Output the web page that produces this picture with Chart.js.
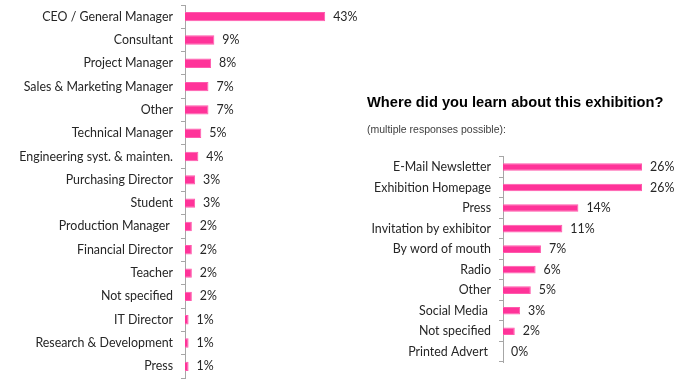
<!DOCTYPE html>
<html>
<head>
<meta charset="utf-8">
<script src="https://cdn.jsdelivr.net/npm/chart.js@4/dist/chart.umd.min.js"></script>
<style>
  body { margin: 0; background: #fff; }
  #wrapLeft { position: absolute; left: 0; top: 0; width: 360px; height: 388px; }
  #wrapRight { position: absolute; left: 360px; top: 85px; width: 331px; height: 303px; }
</style>
</head>
<body>
<div id="wrapLeft"><canvas id="positionChart"></canvas></div>
<div id="wrapRight"><canvas id="sourceChart"></canvas></div>
<script>
// left chart - job position
const positions = ["CEO / General Manager", "Consultant", "Project Manager", "Sales & Marketing Manager", "Other",
  "Technical Manager", "Engineering syst. & mainten.", "Purchasing Director", "Student", "Production Manager ",
  "Financial Director", "Teacher", "Not specified", "IT Director", "Research & Development", "Press"]
const positionValues = [43, 9, 8, 7.2, 7.2, 5, 4.1, 3.1, 3.1, 2.1, 2.1, 2.1, 2.1, 1.1, 1.1, 1.1]

// right chart - where did you learn about it
const sources = ["E-Mail Newsletter", "Exhibition Homepage", "Press", "Invitation by exhibitor", "By word of mouth",
  "Radio", "Other", "Social Media ", "Not specified", "Printed Advert "]
const sourceValues = [26, 26, 14.1, 11.1, 7.1, 6.1, 5.2, 3.2, 2.2, 0]

const pink = "#ff3399"
const labelFont = { family: "Lato", size: 12.4 }

// draws the "43%" style labels next to bars
const valueLabels = {
  id: "valueLabels",
  afterDatasetsDraw(chart) {
    const ctx = chart.ctx
    const meta = chart.getDatasetMeta(0)
    ctx.save()
    ctx.font = "12.4px Lato"
    ctx.fillStyle = "#262626"
    ctx.textBaseline = "middle"
    meta.data.forEach((bar, i) => {
      const v = chart.data.datasets[0].data[i]
      ctx.fillText(Math.round(v) + "%", bar.x + 8, bar.y)
    })
    ctx.restore()
  }
}

function makeChart(id, labels, values, axisWidth, max, barPct, padding, plugins) {
  return new Chart(document.getElementById(id), {
    type: "bar",
    data: {
      labels: labels,
      datasets: [{
        data: values,
        backgroundColor: pink,
        borderColor: "#ff5aad",
        borderWidth: 1,
        barPercentage: barPct,
        categoryPercentage: 1
      }]
    },
    options: {
      indexAxis: "y",
      responsive: true,
      maintainAspectRatio: false,
      animation: false,
      layout: { padding: padding },
      plugins: Object.assign({ legend: { display: false }, tooltip: { enabled: false } }, plugins),
      scales: {
        x: { display: false, min: 0, max: max },
        y: {
          afterFit(scale) {
            scale.width = axisWidth
            scale.paddingTop = 0
            scale.paddingBottom = 0
          },
          grid: { drawOnChartArea: false, drawTicks: true, tickLength: 4, offset: true, color: "#a6a6a6" },
          border: { display: true, color: "#a6a6a6" },
          ticks: { color: "#262626", font: labelFont, padding: 8, autoSkip: false }
        }
      }
    },
    plugins: [valueLabels]
  })
}

makeChart("positionChart", positions, positionValues, 185, 50, 0.4,
  { top: 5, bottom: 10, left: 0, right: 12 }, {})

makeChart("sourceChart", sources, sourceValues, 136, 30, 0.37,
  { top: 0, bottom: 26, left: 7, right: 27.6 }, {
    title: {
      display: true, align: "start", text: "Where did you learn about this exhibition?",
      color: "#000", font: { family: "Liberation Sans", size: 14.7, weight: "bold" },
      padding: { top: 9, bottom: 12 }
    },
    subtitle: {
      display: true, align: "start", text: "(multiple responses possible):",
      color: "#404040", font: { family: "Liberation Sans", size: 10.5 },
      padding: { top: 0, bottom: 20.5 }
    }
  })
</script>
</body>
</html>
